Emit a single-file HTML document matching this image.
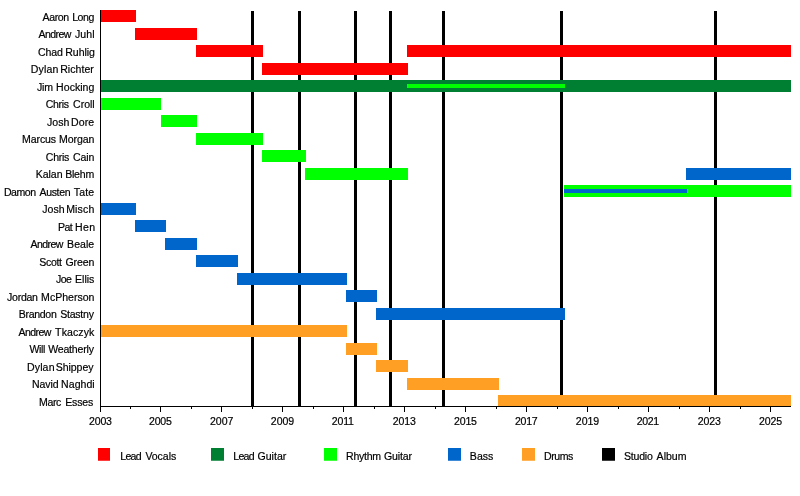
<!DOCTYPE html>
<html lang="en"><head><meta charset="utf-8"><title>Band members timeline</title>
<style>
html,body{margin:0;padding:0;background:#fff;}
body{width:800px;height:496px;overflow:hidden;}
svg{display:block;}
text{font-family:"Liberation Sans",sans-serif;font-size:11.5px;fill:#000;stroke:#000;stroke-width:0.2px;white-space:pre;}
</style></head><body>
<svg width="800" height="496" viewBox="0 0 800 496">
<rect width="800" height="496" fill="#fff"/>
<g class="albums" fill="#000">
<rect x="251" y="11" width="3" height="395"/>
<rect x="298" y="11" width="3" height="395"/>
<rect x="354" y="11" width="3" height="395"/>
<rect x="389" y="11" width="3" height="395"/>
<rect x="442" y="11" width="3" height="395"/>
<rect x="560" y="11" width="3" height="395"/>
<rect x="714" y="11" width="3" height="395"/>
</g>
<g class="bars">
<rect x="100" y="10" width="36" height="12" fill="#ff0000"/>
<rect x="135" y="28" width="62" height="12" fill="#ff0000"/>
<rect x="196" y="45" width="67" height="12" fill="#ff0000"/>
<rect x="407" y="45" width="384" height="12" fill="#ff0000"/>
<rect x="262" y="63" width="146" height="12" fill="#ff0000"/>
<rect x="100" y="80" width="691" height="12" fill="#007f33"/>
<rect x="407" y="84" width="158" height="4" fill="#00ff00"/>
<rect x="100" y="98" width="61" height="12" fill="#00ff00"/>
<rect x="161" y="115" width="36" height="12" fill="#00ff00"/>
<rect x="196" y="133" width="67" height="12" fill="#00ff00"/>
<rect x="262" y="150" width="44" height="12" fill="#00ff00"/>
<rect x="305" y="168" width="103" height="12" fill="#00ff00"/>
<rect x="686" y="168" width="105" height="12" fill="#0066cc"/>
<rect x="564" y="185" width="227" height="12" fill="#00ff00"/>
<rect x="564" y="189" width="123" height="4" fill="#0066cc"/>
<rect x="100" y="203" width="36" height="12" fill="#0066cc"/>
<rect x="135" y="220" width="31" height="12" fill="#0066cc"/>
<rect x="165" y="238" width="32" height="12" fill="#0066cc"/>
<rect x="196" y="255" width="42" height="12" fill="#0066cc"/>
<rect x="237" y="273" width="110" height="12" fill="#0066cc"/>
<rect x="346" y="290" width="31" height="12" fill="#0066cc"/>
<rect x="376" y="308" width="189" height="12" fill="#0066cc"/>
<rect x="100" y="325" width="247" height="12" fill="#ff9f23"/>
<rect x="346" y="343" width="31" height="12" fill="#ff9f23"/>
<rect x="376" y="360" width="32" height="12" fill="#ff9f23"/>
<rect x="407" y="378" width="92" height="12" fill="#ff9f23"/>
<rect x="498" y="395" width="293" height="12" fill="#ff9f23"/>
</g>
<g class="axes" fill="#000">
<rect x="100" y="10" width="1" height="397"/>
<rect x="100" y="406" width="691" height="1"/>
<rect x="100" y="407" width="1" height="5"/>
<rect x="130" y="407" width="1" height="2"/>
<rect x="160" y="407" width="1" height="5"/>
<rect x="191" y="407" width="1" height="2"/>
<rect x="221" y="407" width="1" height="5"/>
<rect x="252" y="407" width="1" height="2"/>
<rect x="282" y="407" width="1" height="5"/>
<rect x="313" y="407" width="1" height="2"/>
<rect x="343" y="407" width="1" height="5"/>
<rect x="374" y="407" width="1" height="2"/>
<rect x="404" y="407" width="1" height="5"/>
<rect x="435" y="407" width="1" height="2"/>
<rect x="465" y="407" width="1" height="5"/>
<rect x="496" y="407" width="1" height="2"/>
<rect x="526" y="407" width="1" height="5"/>
<rect x="557" y="407" width="1" height="2"/>
<rect x="587" y="407" width="1" height="5"/>
<rect x="618" y="407" width="1" height="2"/>
<rect x="648" y="407" width="1" height="5"/>
<rect x="679" y="407" width="1" height="2"/>
<rect x="709" y="407" width="1" height="5"/>
<rect x="740" y="407" width="1" height="2"/>
<rect x="770" y="407" width="1" height="5"/>
</g>
<g class="ticklabels" transform="scale(0.92,1)">
<text y="424.8"><tspan x="96.74" textLength="24.99" lengthAdjust="spacing">2003</tspan></text>
<text y="424.8"><tspan x="161.96" textLength="24.78" lengthAdjust="spacing">2005</tspan></text>
<text y="424.8"><tspan x="228.26" textLength="25.54" lengthAdjust="spacing">2007</tspan></text>
<text y="424.8"><tspan x="294.4" textLength="25.32" lengthAdjust="spacing">2009</tspan></text>
<text y="424.8"><tspan x="360.71" textLength="23.96" lengthAdjust="spacing">2011</tspan></text>
<text y="424.8"><tspan x="426.85" textLength="25.24" lengthAdjust="spacing">2013</tspan></text>
<text y="424.8"><tspan x="493.48" textLength="24.99" lengthAdjust="spacing">2015</tspan></text>
<text y="424.8"><tspan x="559.78" textLength="24.61" lengthAdjust="spacing">2017</tspan></text>
<text y="424.8"><tspan x="625.92" textLength="25.32" lengthAdjust="spacing">2019</tspan></text>
<text y="424.8"><tspan x="692.23" textLength="24.23" lengthAdjust="spacing">2021</tspan></text>
<text y="424.8"><tspan x="758.37" textLength="25.24" lengthAdjust="spacing">2023</tspan></text>
<text y="424.8"><tspan x="825" textLength="25.24" lengthAdjust="spacing">2025</tspan></text>
</g>
<g class="names" transform="scale(0.92,1)">
<text y="21"><tspan x="46.3" textLength="28.8" lengthAdjust="spacing">Aaron</tspan> <tspan x="78.4" textLength="24.1" lengthAdjust="spacing">Long</tspan></text>
<text y="38"><tspan x="41.85" textLength="35.72" lengthAdjust="spacing">Andrew</tspan> <tspan x="81.49" textLength="21.33" lengthAdjust="spacing">Juhl</tspan></text>
<text y="56"><tspan x="41.41" textLength="26.86" lengthAdjust="spacing">Chad</tspan> <tspan x="70.9" textLength="32.36" lengthAdjust="spacing">Ruhlig</tspan></text>
<text y="73"><tspan x="33.51" textLength="29.92" lengthAdjust="spacing">Dylan</tspan> <tspan x="65.46" textLength="36.57" lengthAdjust="spacing">Richter</tspan></text>
<text y="91"><tspan x="40.3" textLength="17.35" lengthAdjust="spacing">Jim</tspan> <tspan x="61.01" textLength="41.55" lengthAdjust="spacing">Hocking</tspan></text>
<text y="108"><tspan x="49.84" textLength="25.15" lengthAdjust="spacing">Chris</tspan> <tspan x="79.46" textLength="23.33" lengthAdjust="spacing">Croll</tspan></text>
<text y="126"><tspan x="51.17" textLength="24.25" lengthAdjust="spacing">Josh</tspan> <tspan x="77.31" textLength="24.94" lengthAdjust="spacing">Dore</tspan></text>
<text y="143"><tspan x="23.89" textLength="37.12" lengthAdjust="spacing">Marcus</tspan> <tspan x="64.1" textLength="38.46" lengthAdjust="spacing">Morgan</tspan></text>
<text y="161"><tspan x="49.84" textLength="25.42" lengthAdjust="spacing">Chris</tspan> <tspan x="79.46" textLength="23.07" lengthAdjust="spacing">Cain</tspan></text>
<text y="178"><tspan x="38.94" textLength="29.01" lengthAdjust="spacing">Kalan</tspan> <tspan x="70.79" textLength="31.69" lengthAdjust="spacing">Blehm</tspan></text>
<text y="196"><tspan x="4.32" textLength="34.98" lengthAdjust="spacing">Damon</tspan> <tspan x="42.93" textLength="33.78" lengthAdjust="spacing">Austen</tspan> <tspan x="80.27" textLength="22.08" lengthAdjust="spacing">Tate</tspan></text>
<text y="213"><tspan x="45.84" textLength="24.41" lengthAdjust="spacing">Josh</tspan> <tspan x="71.88" textLength="30.65" lengthAdjust="spacing">Misch</tspan></text>
<text y="231"><tspan x="63.02" textLength="16.05" lengthAdjust="spacing">Pat</tspan> <tspan x="81.66" textLength="21.82" lengthAdjust="spacing">Hen</tspan></text>
<text y="248"><tspan x="33.15" textLength="35.72" lengthAdjust="spacing">Andrew</tspan> <tspan x="72.96" textLength="29.34" lengthAdjust="spacing">Beale</tspan></text>
<text y="266"><tspan x="42.61" textLength="24.83" lengthAdjust="spacing">Scott</tspan> <tspan x="71.2" textLength="31.35" lengthAdjust="spacing">Green</tspan></text>
<text y="283"><tspan x="60.84" textLength="17.37" lengthAdjust="spacing">Joe</tspan> <tspan x="81.66" textLength="20.75" lengthAdjust="spacing">Ellis</tspan></text>
<text y="301"><tspan x="7.69" textLength="33.63" lengthAdjust="spacing">Jordan</tspan> <tspan x="44.7" textLength="57.87" lengthAdjust="spacing">McPherson</tspan></text>
<text y="318"><tspan x="20.46" textLength="41.26" lengthAdjust="spacing">Brandon</tspan> <tspan x="65.43" textLength="36.74" lengthAdjust="spacing">Stastny</tspan></text>
<text y="336"><tspan x="20.11" textLength="35.72" lengthAdjust="spacing">Andrew</tspan> <tspan x="59.89" textLength="42.67" lengthAdjust="spacing">Tkaczyk</tspan></text>
<text y="353"><tspan x="32.07" textLength="17.22" lengthAdjust="spacing">Will</tspan> <tspan x="52.39" textLength="49.75" lengthAdjust="spacing">Weatherly</tspan></text>
<text y="371"><tspan x="29.32" textLength="29.95" lengthAdjust="spacing">Dylan</tspan> <tspan x="60.71" textLength="40.9" lengthAdjust="spacing">Shippey</tspan></text>
<text y="388"><tspan x="34.76" textLength="29.05" lengthAdjust="spacing">Navid</tspan> <tspan x="66.44" textLength="36.42" lengthAdjust="spacing">Naghdi</tspan></text>
<text y="406"><tspan x="42.36" textLength="24.39" lengthAdjust="spacing">Marc</tspan> <tspan x="70.79" textLength="30.71" lengthAdjust="spacing">Esses</tspan></text>
</g>
<g class="legend">
<rect x="98" y="448" width="12" height="12.75" fill="#ff0000"/>
<rect x="211" y="448" width="13" height="12.75" fill="#007f33"/>
<rect x="324" y="448" width="13" height="12.75" fill="#00ff00"/>
<rect x="448" y="448" width="13" height="12.75" fill="#0066cc"/>
<rect x="522" y="448" width="13" height="12.75" fill="#ff9f23"/>
<rect x="602" y="448" width="13" height="12.75" fill="#000"/>
<g transform="scale(0.92,1)">
<text y="460"><tspan x="130.68" textLength="23.28" lengthAdjust="spacing">Lead</tspan> <tspan x="158.02" textLength="33.58" lengthAdjust="spacing">Vocals</tspan></text>
<text y="460"><tspan x="253.51" textLength="23.28" lengthAdjust="spacing">Lead</tspan> <tspan x="279.89" textLength="31.34" lengthAdjust="spacing">Guitar</tspan></text>
<text y="460"><tspan x="376.22" textLength="38.05" lengthAdjust="spacing">Rhythm</tspan> <tspan x="417.39" textLength="30.36" lengthAdjust="spacing">Guitar</tspan></text>
<text y="460"><tspan x="510.68" textLength="25.58" lengthAdjust="spacing">Bass</tspan></text>
<text y="460"><tspan x="591.28" textLength="31.94" lengthAdjust="spacing">Drums</tspan></text>
<text y="460"><tspan x="678.26" textLength="31.28" lengthAdjust="spacing">Studio</tspan> <tspan x="713.7" textLength="32.53" lengthAdjust="spacing">Album</tspan></text>
</g>
</g>
</svg>
</body></html>
